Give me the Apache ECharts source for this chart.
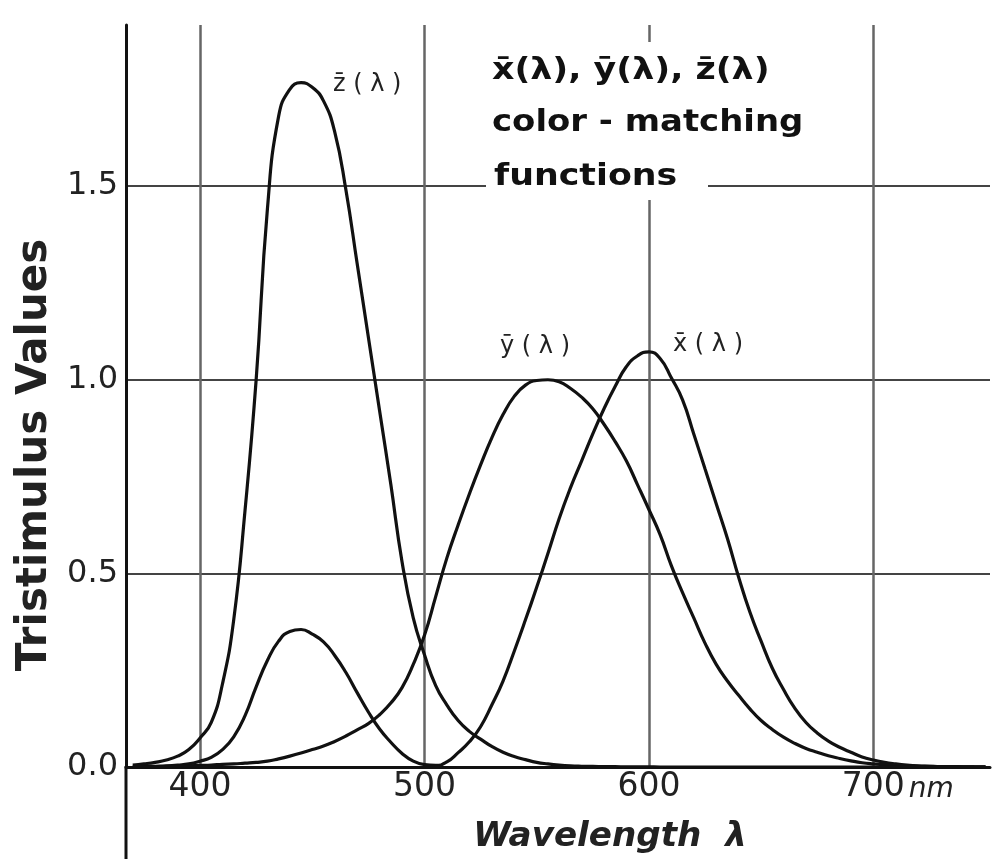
<!DOCTYPE html>
<html style="height: 100%">
<head>
<meta charset="utf-8">
</head>
<body style="height: 100%; margin: 0; background: #fff">
<div id="container" style="width: 993px; height: 859px"></div>
<script type="text/javascript" src="https://cdn.jsdelivr.net/npm/echarts@6/dist/echarts.min.js"></script>
<script type="text/javascript">
// wavelength in nm, 5 nm steps
var wavelengths = [370, 375, 380, 385, 390, 395, 400, 405, 410, 415,
    420, 425, 430, 435, 440, 445, 450, 455, 460, 465,
    470, 475, 480, 485, 490, 495, 500, 505, 510, 515,
    520, 525, 530, 535, 540, 545, 550, 555, 560, 565,
    570, 575, 580, 585, 590, 595, 600, 605, 610, 615,
    620, 625, 630, 635, 640, 645, 650, 655, 660, 665,
    670, 675, 680, 685, 690, 695, 700, 705, 710, 715,
    720, 725, 730, 735, 740, 745, 750];

// x-bar(lambda)
var xBar = [0.0005, 0.001, 0.002, 0.003, 0.005, 0.008, 0.015, 0.025, 0.045, 0.078,
    0.132, 0.207, 0.275, 0.325, 0.350, 0.355, 0.343, 0.323, 0.288, 0.244,
    0.192, 0.142, 0.098, 0.064, 0.035, 0.015, 0.006, 0.004, 0.013, 0.037,
    0.065, 0.104, 0.160, 0.222, 0.299, 0.380, 0.464, 0.551, 0.641, 0.720,
    0.790, 0.860, 0.925, 0.983, 1.034, 1.062, 1.072, 1.055, 1.005, 0.948,
    0.860, 0.770, 0.680, 0.590, 0.490, 0.400, 0.325, 0.255, 0.200, 0.152,
    0.115, 0.088, 0.067, 0.051, 0.038, 0.026, 0.018, 0.012, 0.008, 0.005,
    0.003, 0.002, 0.001, 0.001, 0.0005, 0.0003, 0.0002];

// y-bar(lambda)
var yBar = [0, 0.0005, 0.001, 0.0015, 0.002, 0.003, 0.004, 0.005, 0.007, 0.008,
    0.010, 0.012, 0.015, 0.021, 0.028, 0.036, 0.045, 0.054, 0.066, 0.080,
    0.096, 0.112, 0.135, 0.165, 0.205, 0.265, 0.340, 0.440, 0.540, 0.625,
    0.705, 0.780, 0.850, 0.910, 0.957, 0.986, 0.998, 1.000, 0.995, 0.978,
    0.955, 0.925, 0.885, 0.840, 0.790, 0.728, 0.665, 0.600, 0.520, 0.450,
    0.385, 0.320, 0.265, 0.222, 0.185, 0.150, 0.120, 0.097, 0.077, 0.061,
    0.048, 0.038, 0.029, 0.022, 0.016, 0.011, 0.008, 0.006, 0.004, 0.003,
    0.002, 0.0015, 0.001, 0.0007, 0.0005, 0.0002, 0];

// z-bar(lambda)
var zBar = [0.005, 0.008, 0.012, 0.018, 0.028, 0.045, 0.075, 0.115, 0.215, 0.380,
    0.660, 1.000, 1.440, 1.680, 1.750, 1.767, 1.755, 1.720, 1.640, 1.490,
    1.300, 1.110, 0.920, 0.730, 0.530, 0.385, 0.290, 0.210, 0.160, 0.120,
    0.092, 0.072, 0.053, 0.038, 0.027, 0.019, 0.012, 0.008, 0.005, 0.003,
    0.002, 0.0015, 0.001, 0.0008, 0.0005, 0.0003, 0.0002, 0, 0, 0,
    0, 0, 0, 0, 0, 0, 0, 0, 0, 0,
    0, 0, 0, 0, 0, 0, 0, 0, 0, 0,
    0, 0, 0, 0, 0, 0, 0];

var seriesNames = ['x\u0304(\u03bb)', 'y\u0304(\u03bb)', 'z\u0304(\u03bb)'];
var xUnit = 'nm';
var yAxisTitle = 'Tristimulus Values';
var xAxisTitle = 'Wavelength  \u03bb';
var titleLines = ['x\u0304(\u03bb), y\u0304(\u03bb), z\u0304(\u03bb)', 'color - matching', 'functions'];

var dom = document.getElementById('container');
var myChart = echarts.init(dom, null, {renderer: 'canvas'});

function pairs(values) {
    return wavelengths.map(function (w, i) {
        return [w, values[i]];
    });
}

function curve(name, values) {
    return {
        name: name,
        type: 'line',
        data: pairs(values),
        showSymbol: false,
        symbol: 'none',
        smooth: 0.5,
        lineStyle: {color: '#111', width: 3.2},
        z: 3
    };
}

var labelFont = '"DejaVu Sans", sans-serif';

var option = {
    animation: false,
    backgroundColor: '#fff',
    grid: {left: 126, right: 0, top: 25, bottom: 92},
    xAxis: {
        type: 'value',
        min: 367,
        max: 752,
        splitNumber: 4,
        minInterval: 100,
        maxInterval: 100,
        axisLine: {onZero: false, lineStyle: {color: '#111', width: 3}},
        axisTick: {show: false},
        axisLabel: {
            margin: 4,
            color: '#222',
            fontFamily: labelFont,
            fontSize: 33,
            formatter: function (v) {
                if (v < 400 || v > 700) return '';
                if (v === 700) return '{p|\u00a0}700{u|' + xUnit + '}';
                return String(v);
            },
            rich: {
                p: {width: 49},
                u: {fontFamily: labelFont, fontSize: 28, fontStyle: 'italic', color: '#222',
                    padding: [0, 0, 0, 4], verticalAlign: 'bottom'}
            }
        },
        splitLine: {show: true, showMinLine: false, showMaxLine: false,
            lineStyle: {color: '#666', width: 2.5}}
    },
    yAxis: {
        type: 'value',
        min: 0,
        max: 1.916,
        interval: 0.5,
        axisLine: {show: true, lineStyle: {color: '#111', width: 3}},
        axisTick: {show: false},
        axisLabel: {
            margin: 8,
            color: '#222',
            fontFamily: labelFont,
            fontSize: 32,
            formatter: function (v) {
                return v > 1.6 ? '' : v.toFixed(1);
            }
        },
        splitLine: {show: true, showMinLine: false, showMaxLine: false,
            lineStyle: {color: '#444', width: 2}}
    },
    graphic: [
        // y axis line continues below the x axis
        {type: 'line', shape: {x1: 126, y1: 766, x2: 126, y2: 859},
            style: {stroke: '#111', lineWidth: 3}, z: 4},
        {type: 'rect', shape: {x: 486, y: 42, width: 222, height: 158},
            style: {fill: '#fff'}, z: 5},
        {type: 'text', x: 492, y: 71, scaleX: 1.16, z: 6,
            style: {text: titleLines[0], font: 'bold 30px "DejaVu Sans"', fill: '#111',
                textAlign: 'left', textVerticalAlign: 'middle'}},
        {type: 'text', x: 492, y: 123, scaleX: 1.13, z: 6,
            style: {text: titleLines[1], font: 'bold 30px "DejaVu Sans"', fill: '#111',
                textAlign: 'left', textVerticalAlign: 'middle'}},
        {type: 'text', x: 494, y: 177, scaleX: 1.16, z: 6,
            style: {text: titleLines[2], font: 'bold 30px "DejaVu Sans"', fill: '#111',
                textAlign: 'left', textVerticalAlign: 'middle'}},
        // curve labels
        {type: 'text', x: 333, y: 85, z: 6,
            style: {text: 'z\u0304 ( \u03bb )', font: '24px "DejaVu Sans"', fill: '#222',
                textAlign: 'left', textVerticalAlign: 'middle'}},
        {type: 'text', x: 500, y: 347, z: 6,
            style: {text: 'y\u0304 ( \u03bb )', font: '24px "DejaVu Sans"', fill: '#222',
                textAlign: 'left', textVerticalAlign: 'middle'}},
        {type: 'text', x: 673, y: 345, z: 6,
            style: {text: 'x\u0304 ( \u03bb )', font: '24px "DejaVu Sans"', fill: '#222',
                textAlign: 'left', textVerticalAlign: 'middle'}},
        // axis titles
        {type: 'text', x: 35, y: 455, rotation: Math.PI / 2, z: 6,
            style: {text: yAxisTitle, font: 'bold 42px "DejaVu Sans"', fill: '#222',
                textAlign: 'center', textVerticalAlign: 'middle'}},
        {type: 'text', x: 610, y: 837, scaleX: 1.035, z: 6,
            style: {text: xAxisTitle, font: 'italic bold 33px "DejaVu Sans"', fill: '#222',
                textAlign: 'center', textVerticalAlign: 'middle'}}
    ],
    series: [
        curve(seriesNames[0], xBar),
        curve(seriesNames[1], yBar),
        curve(seriesNames[2], zBar)
    ]
};

myChart.setOption(option);
</script>
</body>
</html>
